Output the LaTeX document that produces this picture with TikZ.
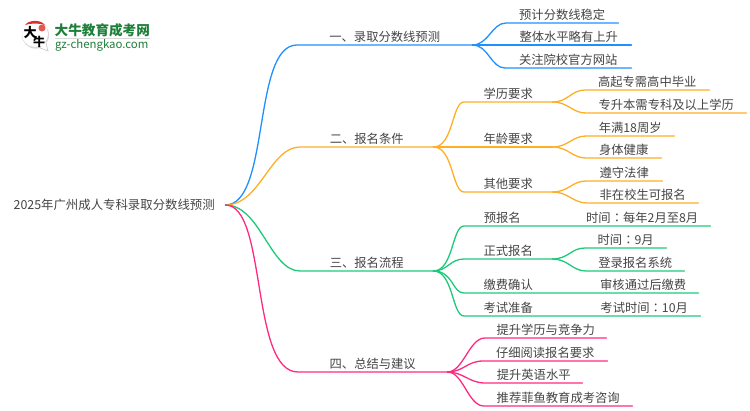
\documentclass[tikz,border=0pt]{standalone}
\usepackage{fontspec}
\setmainfont{Noto Sans CJK SC}
\newfontfamily\cjktc{Noto Sans CJK TC}
\usepackage{tikz}
\definecolor{lineblue}{HTML}{1E90FF}
\definecolor{lineorange}{HTML}{FFAF26}
\definecolor{linegreen}{HTML}{1DC97B}
\definecolor{linepink}{HTML}{FF2A80}
\definecolor{logogreen}{HTML}{1F7F3A}
\definecolor{logored}{HTML}{D9302A}
\definecolor{inkgrey}{HTML}{444444}
\newcommand{\tfont}{\fontsize{12.3}{14}\selectfont}
\newcommand{\cln}{{\cjktc ：}}
\tikzset{
  topic/.style={anchor=south west,inner xsep=0pt,inner ysep=1pt,text height=9.5pt,text depth=2.5pt,
    align=center,text=inkgrey,font=\tfont,minimum width=#1},
  lvl/.style={line width=1.3pt,line cap=round},
  root/.style={anchor=west,inner sep=0pt,text=inkgrey,font=\fontsize{12.4}{14}\selectfont,minimum width=222pt},
}

\begin{document}
\begin{tikzpicture}[x=1pt,y=-1pt]
   \useasboundingbox (0,0) rectangle (750,410);
   % logo
   \fill[black!15] (35.5,35) circle (13.6);
   \fill[white] (35,34) circle (13);
   \fill[white] (38,44) -- (48,51) -- (45,41) -- cycle;
   \draw[black!20,line width=.7pt] (39,47.5) -- (48,51) -- (46,43);
   \fill[logored] (25,25) .. controls (29,19.5) and (41,19.5) .. (45,25) .. controls (39,23) and (31,23) .. (25,25) -- cycle;
   \fill[logored!80] (42,28) circle (3.5);
   \node[inner sep=0pt,font=\bfseries\fontsize{13}{13}\selectfont] (logoa) at (30,33) {大};
   \node[inner sep=0pt,font=\bfseries\fontsize{12}{12}\selectfont] (logob) at (39,42) {牛};
   \node[anchor=west,inner sep=0pt,text=logogreen,font=\bfseries\fontsize{13.6}{14}\selectfont] (logot) at (54.5,30) {大牛教育成考网};
   \node[anchor=west,inner sep=0pt,text=logogreen,font=\fontsize{11.4}{12}\selectfont] (logou) at (55,45) {gz-chengkao.com};
   \draw[black!15,line width=.7pt] (55,38) -- (150,38);

   \node[root] (main) at (3,205) {2025年广州成人专科录取分数线预测};

   % branch one
   \node[topic=175pt] (one) at (297,45) {一、录取分数线预测};
   \node[topic=112pt] (one1) at (506,23) {预计分数线稳定};
   \node[topic=125pt] (one2) at (506,45) {整体水平略有上升};
   \node[topic=126pt] (one3) at (505,68) {关注院校官方网站};
   % branch two
   \node[topic=133pt] (two) at (300,147) {二、报名条件};
   \node[topic=88pt] (two1) at (464,102) {学历要求};
   \node[topic=88pt] (two2) at (464,147) {年龄要求};
   \node[topic=88pt] (two3) at (464,192) {其他要求};
   \node[topic=124pt] (two11) at (585,90) {高起专需高中毕业};
   \node[topic=160pt] (two12) at (586,113) {专升本需专科及以上学历};
   \node[topic=88pt] (two21) at (586,136) {年满18周岁};
   \node[topic=75pt] (two22) at (586,158) {身体健康};
   \node[topic=76pt] (two31) at (586,181) {遵守法律};
   \node[topic=111pt] (two32) at (587,203) {非在校生可报名};
   % branch three
   \node[topic=133pt] (three) at (300,271) {三、报名流程};
   \node[topic=76pt] (three1) at (464,226) {预报名};
   \node[topic=88pt] (three2) at (464,259) {正式报名};
   \node[topic=88pt] (three3) at (464,293) {缴费确认};
   \node[topic=88pt] (three4) at (464,316) {考试准备};
   \node[topic=136pt] (three11) at (574,226) {时间\cln 每年2月至8月};
   \node[topic=81pt] (three21) at (585,248) {时间\cln 9月};
   \node[topic=98pt] (three22) at (586,271) {登录报名系统};
   \node[topic=110pt] (three31) at (588,293) {审核通过后缴费};
   \node[topic=112pt] (three41) at (588,316) {考试时间\cln 10月};
   % branch four
   \node[topic=149pt] (four) at (298,372) {四、总结与建议};
   \node[topic=121pt] (four1) at (485,338) {提升学历与竞争力};
   \node[topic=124pt] (four2) at (483,361) {仔细阅读报名要求};
   \node[topic=97pt] (four3) at (485,383) {提升英语水平};
   \node[topic=148pt] (four4) at (484,406) {推荐菲鱼教育成考咨询};

   \begin{scope}[lvl,lineblue]
   \draw (main.east) .. controls +(45,0) and +(-45,0) .. (one.south west) -- (one.south east);
   \draw (one.south east) .. controls +(16,0) and +(-14,0) .. (one1.south west) -- (one1.south east);
   \draw (one.south east) -- (one2.south west) -- (one2.south east);
   \draw (one.south east) .. controls +(16,0) and +(-14,0) .. (one3.south west) -- (one3.south east);
   \end{scope}
   \begin{scope}[lvl,lineorange]
   \draw (main.east) .. controls +(35,0) and +(-30,0) .. (two.south west) -- (two.south east);
   \draw (two.south east) .. controls +(20,0) and +(-12,0) .. (two1.south west) -- (two1.south east);
   \draw (two.south east) -- (two2.south west) -- (two2.south east);
   \draw (two.south east) .. controls +(20,0) and +(-12,0) .. (two3.south west) -- (two3.south east);
   \draw (two1.south east) .. controls +(16,0) and +(-14,0) .. (two11.south west) -- (two11.south east);
   \draw (two1.south east) .. controls +(16,0) and +(-14,0) .. (two12.south west) -- (two12.south east);
   \draw (two2.south east) .. controls +(16,0) and +(-14,0) .. (two21.south west) -- (two21.south east);
   \draw (two2.south east) .. controls +(16,0) and +(-14,0) .. (two22.south west) -- (two22.south east);
   \draw (two3.south east) .. controls +(16,0) and +(-14,0) .. (two31.south west) -- (two31.south east);
   \draw (two3.south east) .. controls +(16,0) and +(-14,0) .. (two32.south west) -- (two32.south east);
   \end{scope}
   \begin{scope}[lvl,linegreen]
   \draw (main.east) .. controls +(35,0) and +(-30,0) .. (three.south west) -- (three.south east);
   \draw (three.south east) .. controls +(20,0) and +(-12,0) .. (three1.south west) -- (three1.south east) -- (three11.south west) -- (three11.south east);
   \draw (three.south east) .. controls +(14,0) and +(-14,0) .. (three2.south west) -- (three2.south east);
   \draw (three.south east) .. controls +(20,0) and +(-12,0) .. (three3.south west) -- (three3.south east) -- (three31.south west) -- (three31.south east);
   \draw (three.south east) .. controls +(20,0) and +(-12,0) .. (three4.south west) -- (three4.south east) -- (three41.south west) -- (three41.south east);
   \draw (three2.south east) .. controls +(16,0) and +(-14,0) .. (three21.south west) -- (three21.south east);
   \draw (three2.south east) .. controls +(16,0) and +(-14,0) .. (three22.south west) -- (three22.south east);
   \end{scope}
   \begin{scope}[lvl,linepink]
   \draw (main.east) .. controls +(42,0) and +(-48,0) .. (four.south west) -- (four.south east);
   \draw (four.south east) .. controls +(16,0) and +(-16,0) .. (four1.south west) -- (four1.south east);
   \draw (four.south east) .. controls +(16,0) and +(-16,0) .. (four2.south west) -- (four2.south east);
   \draw (four.south east) .. controls +(16,0) and +(-16,0) .. (four3.south west) -- (four3.south east);
   \draw (four.south east) .. controls +(16,0) and +(-16,0) .. (four4.south west) -- (four4.south east);
   \end{scope}
\end{tikzpicture}
\end{document}
